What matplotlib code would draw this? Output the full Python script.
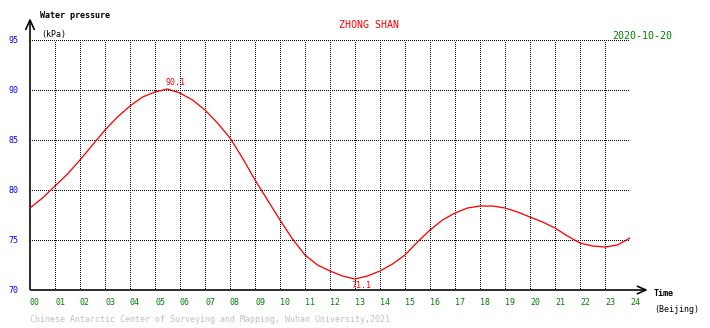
import numpy as np
import matplotlib
matplotlib.use("Agg")
import matplotlib.pyplot as plt
from matplotlib.transforms import offset_copy

# Half-hourly water pressure readings (kPa), Beijing time
hours = [0, 0.5, 1, 1.5, 2, 2.5, 3, 3.5, 4, 4.5, 5, 5.5, 6, 6.5, 7, 7.5, 8, 8.5,
         9, 9.5, 10, 10.5, 11, 11.5, 12, 12.5, 13, 13.5, 14, 14.5, 15, 15.5,
         16, 16.5, 17, 17.5, 18, 18.5, 19, 19.5, 20, 20.5, 21, 21.5, 22, 22.5,
         23, 23.5, 24]
pressure = [78.2, 79.2, 80.4, 81.6, 83.0, 84.5, 86.0, 87.3, 88.4, 89.3, 89.8, 90.1,
            89.7, 89.0, 88.0, 86.7, 85.2, 83.2, 81.0, 79.0, 77.0, 75.1, 73.5, 72.5,
            71.9, 71.4, 71.1, 71.4, 71.9, 72.6, 73.5, 74.8, 76.0, 77.0, 77.7, 78.2,
            78.4, 78.4, 78.2, 77.8, 77.3, 76.8, 76.2, 75.4, 74.7, 74.4, 74.3, 74.5,
            75.2]

x_ticks = list(range(0, 25))
x_labels = [f"{h:02d}" for h in x_ticks]
y_ticks = [70, 75, 80, 85, 90, 95]
y_labels = [str(v) for v in y_ticks]

station = "ZHONG SHAN"
date_str = "2020-10-20"
credit = "Chinese Antarctic Center of Surveying and Mapping, Wuhan University,2021"

W, H = 710, 328
DPI = 100
fig = plt.figure(figsize=(W / DPI, H / DPI), dpi=DPI)
fig.patch.set_facecolor("white")

mono = "DejaVu Sans Mono"
px = 72.0 / DPI  # one pixel in points

# plot area: hour 0..24 -> x 30..630 px, 70..95 kPa -> y 290..40 px
ax = fig.add_axes([30 / W, (H - 290) / H, 600 / W, 250 / H])
ax.set_xlim(0, 24)
ax.set_ylim(70, 95)
ax.set_facecolor("white")
for s in ax.spines.values():
    s.set_visible(False)

# dotted grid
grid_kw = dict(color="black", linewidth=1 * px, linestyle=(0, (1, 2)), zorder=1,
               antialiased=False)
for v in y_ticks[1:]:
    ax.plot([0, 24], [v, v], **grid_kw)
for h in x_ticks[1:]:
    ax.plot([h, h], [70, 95], **grid_kw)

# axes with arrows
ax_kw = dict(color="black", linewidth=1.6 * px, clip_on=False, zorder=3,
             solid_capstyle="butt")
ax.plot([0, 0], [70, 97], **ax_kw)
ax.plot([-0.18, 0, 0.18], [96.0, 97, 96.0], **ax_kw)
ax.plot([0, 24.64], [70, 70], **ax_kw)
ax.plot([24.27, 24.64, 24.27], [70.4, 70, 69.6], **ax_kw)

# pressure curve
ax.plot(hours, pressure, color="red", linewidth=1.3 * px, zorder=4,
        solid_joinstyle="round")

# extreme value annotations
imax = int(np.argmax(pressure))
imin = int(np.argmin(pressure))
t_up = offset_copy(ax.transData, fig=fig, x=-1.5, y=2, units="dots")
ax.text(hours[imax], pressure[imax], f"{pressure[imax]:.1f}", transform=t_up,
        color="red", fontsize=6, family=mono, ha="left", va="bottom", zorder=5)
t_dn = offset_copy(ax.transData, fig=fig, x=-4, y=-2, units="dots")
ax.text(hours[imin], pressure[imin], f"{pressure[imin]:.1f}", transform=t_dn,
        color="red", fontsize=6, family=mono, ha="left", va="top", zorder=5)

# tick labels
ax.set_xticks(x_ticks, x_labels)
ax.set_yticks(y_ticks, y_labels)
ax.tick_params(axis="x", length=0, pad=6, labelsize=6, labelcolor="green")
ax.tick_params(axis="y", length=0, pad=8, labelsize=6, labelcolor="blue")
for lab in ax.get_xticklabels():
    lab.set_family(mono)
    lab.set_ha("left")
for lab in ax.get_yticklabels():
    lab.set_family(mono)
    lab.set_va("center")

def fig_text(x, y, s, **kw):
    fig.text(x / W, 1 - y / H, s, family=mono, **kw)

fig_text(40, 16, "Water pressure", fontsize=6, color="black", weight="bold",
         va="center", ha="left")
fig_text(41, 34, "(kPa)", fontsize=6, color="black", va="center", ha="left")
fig_text(339, 25, station, fontsize=7.2, color="red", va="center", ha="left")
fig_text(612, 36, date_str, fontsize=7.2, color="green", va="center", ha="left")
fig_text(654, 294, "Time", fontsize=6, color="black", weight="bold",
         va="center", ha="left")
fig_text(654, 310, "(Beijing)", fontsize=6, color="black", va="center", ha="left")
fig_text(30, 320, credit, fontsize=6, color="#c0c0c0", va="center", ha="left")

fig.savefig("out.png", dpi=DPI, facecolor="white")
